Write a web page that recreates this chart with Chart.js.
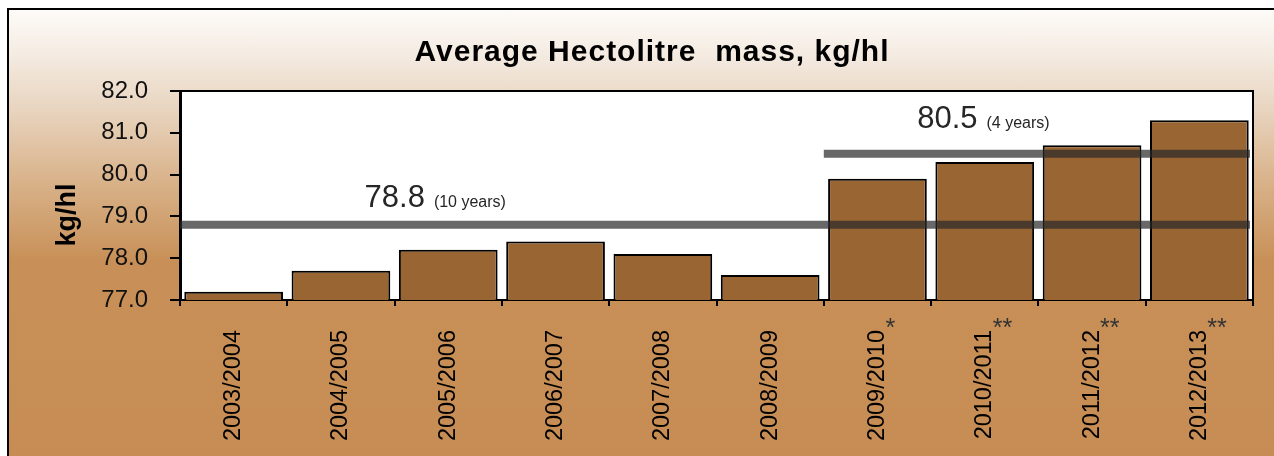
<!DOCTYPE html>
<html>
<head>
<meta charset="utf-8">
<script src="https://cdn.jsdelivr.net/npm/chart.js@4.4.1/dist/chart.umd.min.js"></script>
<style>
	html, body { margin: 0; padding: 0; background: #fff; }
	#frame {
		position: absolute; left: 7px; top: 8px; width: 1300px; height: 470px;
		border: 2px solid #000;
		background: linear-gradient(to bottom, #fdfbf8 0px, #f5ede4 40px, #e8d4bf 100px, #d9b38b 170px, #c89058 250px, #c68c53 470px);
	}
	#wrap { position: absolute; left: 0; top: 0; width: 1274px; height: 456px; }
</style>
</head>
<body>
<div id="frame"></div>
<div id="wrap"><canvas id="massChart" width="1274" height="456"></canvas></div>
<script>
	// 작물 연도
	var seasons = ["2003/2004", "2004/2005", "2005/2006", "2006/2007", "2007/2008",
		"2008/2009", "2009/2010", "2010/2011", "2011/2012", "2012/2013"];
	// 연도 옆 별표
	var seasonNotes = ["", "", "", "", "", "", "*", "**", "**", "**"];
	// 평균 리터중 (kg/hl)
	var hectolitreMass = [77.2, 77.7, 78.2, 78.4, 78.1, 77.6, 79.9, 80.3, 80.7, 81.3];
	// 평균선
	var averageValues = [78.8, 80.5];
	var averageNotes = ["(10 years)", "(4 years)"];
	var averageStart = [0, 6]; // 평균선 시작 연도 index
	var yTicks = [77, 78, 79, 80, 81, 82];
	var chartTitle = "Average Hectolitre  mass, kg/hl";
	var yTitle = "kg/hl";

	// 제목, 평균선, 라벨, 별표, y축 제목
	var annotatePlugin = {
		id: "annotate",
		beforeDraw: function(chart) {
			var a = chart.chartArea, ctx = chart.ctx;
			ctx.save();
			ctx.fillStyle = "#fff";
			ctx.fillRect(a.left, a.top, a.right - a.left, a.bottom - a.top);
			ctx.strokeStyle = "#000";
			ctx.lineWidth = 2;
			ctx.strokeRect(a.left, a.top, a.right - a.left, a.bottom - a.top);
			ctx.restore();
		}, // beforeDraw
		afterDatasetsDraw: function(chart) {
			var ctx = chart.ctx, x = chart.scales.x, y = chart.scales.y, a = chart.chartArea;
			var half = (x.getPixelForValue(1) - x.getPixelForValue(0)) / 2;
			var labelPos = [[1.72, 18], [6.87, 26]]; // [category 위치, 선 위 거리]
			ctx.save();
			for (var i = 0; i < averageValues.length; i++) {
				var py = y.getPixelForValue(averageValues[i]);
				var x0 = averageStart[i] == 0 ? a.left : x.getPixelForValue(averageStart[i]) - half;
				ctx.strokeStyle = "rgba(40,40,40,0.7)";
				ctx.lineWidth = 8;
				ctx.beginPath();
				ctx.moveTo(x0, py);
				ctx.lineTo(a.right - 3, py);
				ctx.stroke();

				var tx = x.getPixelForValue(0) - half + labelPos[i][0] * half * 2;
				var ty = py - labelPos[i][1];
				ctx.fillStyle = "#262626";
				ctx.textBaseline = "alphabetic";
				ctx.textAlign = "left";
				ctx.font = "31px Arial, 'Liberation Sans'";
				var big = averageValues[i].toFixed(1);
				ctx.fillText(big, tx, ty);
				var w = ctx.measureText(big).width;
				ctx.font = "16px Arial, 'Liberation Sans'";
				ctx.fillText(averageNotes[i], tx + w + 9, ty);
			} // end for
			ctx.restore();
		}, // afterDatasetsDraw
		afterDraw: function(chart) {
			var ctx = chart.ctx, x = chart.scales.x;
			ctx.save();
			// 제목
			ctx.fillStyle = "#000";
			ctx.font = "bold 30px Arial, 'Liberation Sans'";
			ctx.textAlign = "center";
			ctx.textBaseline = "alphabetic";
			if ("letterSpacing" in ctx) ctx.letterSpacing = "1px";
			ctx.fillText(chartTitle, 652, 61);
			if ("letterSpacing" in ctx) ctx.letterSpacing = "0px";
			// 별표
			ctx.fillStyle = "#333";
			ctx.font = "25px Arial, 'Liberation Sans'";
			ctx.textAlign = "left";
			for (var i = 0; i < seasonNotes.length; i++) {
				if (seasonNotes[i] != "") {
					ctx.fillText(seasonNotes[i], x.getPixelForValue(i) + 8, 336);
				} // end if
			} // end for
			// y축 제목
			ctx.translate(68, 215);
			ctx.rotate(-Math.PI / 2);
			ctx.fillStyle = "#000";
			ctx.font = "bold 27px Arial, 'Liberation Sans'";
			ctx.textAlign = "center";
			ctx.textBaseline = "middle";
			ctx.fillText(yTitle, 0, 0);
			ctx.restore();
		} // afterDraw
	};

	var chart = new Chart(document.getElementById("massChart"), {
		type: "bar",
		data: {
			labels: seasons,
			datasets: [{
				data: hectolitreMass,
				backgroundColor: "#996633",
				borderColor: "#000",
				borderWidth: 2,
				borderSkipped: false,
				categoryPercentage: 1,
				barPercentage: 0.92
			}]
		},
		options: {
			responsive: false,
			animation: false,
			layout: { padding: { top: 91, right: 21, bottom: 0, left: 0 } },
			plugins: {
				legend: { display: false },
				tooltip: { enabled: false },
				title: { display: false }
			},
			scales: {
				x: {
					grid: { display: true, drawOnChartArea: false, offset: true, tickLength: 6, color: "#000", lineWidth: 2 },
					border: { color: "#000", width: 2 },
					ticks: {
						minRotation: 90, maxRotation: 90, autoSkip: false, padding: 24,
						color: "#000",
						font: { family: "Arial, 'Liberation Sans'", size: 23.5 }
					},
					afterFit: function(scale) { scale.height = 156; }
				},
				y: {
					min: yTicks[0],
					max: yTicks[yTicks.length - 1],
					afterBuildTicks: function(scale) {
						scale.ticks = yTicks.map(function(v) { return { value: v }; });
					},
					grid: { display: true, drawOnChartArea: false, tickLength: 10, color: "#000", lineWidth: 2 },
					border: { color: "#000", width: 3 },
					ticks: {
						padding: 22,
						color: "#111",
						font: { family: "Arial, 'Liberation Sans'", size: 24 },
						callback: function(v) { return Number(v).toFixed(1); }
					},
					afterFit: function(scale) { scale.width = 180; }
				}
			}
		},
		plugins: [annotatePlugin]
	}); // end chart
</script>
</body>
</html>
